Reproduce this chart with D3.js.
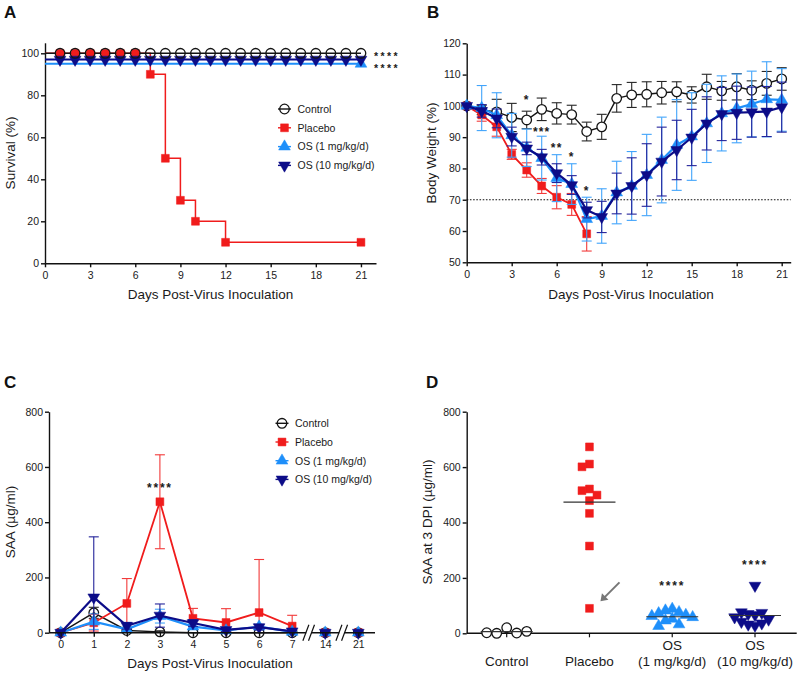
<!DOCTYPE html>
<html><head><meta charset="utf-8">
<script src="https://cdn.jsdelivr.net/npm/d3@7"></script>
<style>body{margin:0;background:#fff}svg{display:block}</style>
</head><body>
<svg id="chart" width="800" height="674"></svg>
<script>
// ---------------- DATA ----------------
// Panel A: survival (%)
const survDays      = [0,1,2,3,4,5,6,7,8,9,10,11,12,13,14,15,16,17,18,19,20,21];
const survControl   = [100,100,100,100,100,100,100,100,100,100,100,100,100,100,100,100,100,100,100,100,100,100];
const survPlacebo   = [100,100,100,100,100,100,100,90,50,30,20,20,10,10,10,10,10,10,10,10,10,10];
const survOS1       = [95,95,95,95,95,95,95,95,95,95,95,95,95,95,95,95,95,95,95,95,95,95];
const survOS10      = [97,97,97,97,97,97,97,97,97,97,97,97,97,97,97,97,97,97,97,97,97,97];
const survControlMarkDays = [1,2,3,4,5,6,7,8,9,10,11,12,13,14,15,16,17,18,19,20,21];
const survPlaceboMarkDays = [1,2,3,4,5,6,7,8,9,10,12,21];
const survOS10MarkDays    = [1,2,3,4,5,6,7,8,9,10,11,12,13,14,15,16,17,18,19,20,21];
const survOS1MarkDays     = [21];
const survTicksX = [0,3,6,9,12,15,18,21];
const survTicksY = [0,20,40,60,80,100];
const survStars = ["****","****"];
const survStarLevels = [100,94];

// Panel B: body weight (%)
const bwDays       = [0,1,2,3,4,5,6,7,8,9,10,11,12,13,14,15,16,17,18,19,20,21];
const bwControl    = [100,98.7,98.1,96.3,95.5,98.9,97.6,97.2,91.8,93.3,102.4,103.5,103.7,104.2,104.5,103.5,106.1,104.8,106.1,105,107.2,108.6];
const bwControlErr = [0,1.5,4,4.5,2.8,3.6,3.4,3,3,4,4.4,4,4,3.6,3.2,2.6,4,3,4.2,3,3.8,3.6];
const bwPlaceboDays= [0,1,2,3,4,5,6,7,8];
const bwPlacebo    = [100,97.1,93.3,84.5,79.5,74.4,70.8,68.5,59.1];
const bwPlaceboErr = [0,2,3,1.6,2.3,2.4,3.7,3.5,5.5];
const bwOS1        = [100,99.3,97,90.6,86.6,83.3,76.9,75,63.8,64.8,72.3,74.4,77.9,82.7,87.5,90.2,94.4,97.6,99.2,100.6,102.1,101.9];
const bwOS1Err     = [0,7.2,7.2,7,6,7,7.5,6.5,7,8.7,10,11,13,13.7,14.5,14,12.5,12,11,10.5,12,10];
const bwOS10       = [100,98.4,96,90.2,86.4,83.6,78.5,74.7,66.7,64.5,72,74.4,77.9,82.2,85.9,89.9,94.4,97.4,97.8,98,98.2,99.6];
const bwOS10Err    = [0,2,3,3,2,2.5,3,3,2.5,5,6.5,9,10,11,9.5,9,8.5,8.5,8.5,8,8,8];
const bwTicksX = [0,3,6,9,12,15,18,21];
const bwTicksY = [50,60,70,80,90,100,110,120];
const bwThreshold = 70;
const bwStarDays   = [4,5,6,7,8];
const bwStarLabels = ["*","***","**","*","*"];
const bwStarLevels = [102.9,92.5,87.5,84.6,73.7];

// Panel C: SAA time course (µg/ml)
const saaDays       = ["0","1","2","3","4","5","6","7","14","21"];
const saaControl    = [0,72,8,3,0,0,0,0,0,0];
const saaControlErr = [0,20,4,4,0,0,0,0,0,0];
const saaPlacebo    = [0,36,106,474,52,37,73,24,0,0];
const saaPlaceboErr = [0,30,90,170,36,50,192,39,0,0];
const saaOS1        = [0,40,12,60,22,8,22,3,0,0];
const saaOS1Err     = [0,28,8,25,10,6,8,3,0,0];
const saaOS10       = [0,128,25,62,35,10,20,5,0,0];
const saaOS10Err    = [0,219,12,42,12,6,10,4,0,0];
const saaTicksY = [0,200,400,600,800];
const saaStarDay = "3";
const saaStarLevel = 535;
const saaStarLabel = "****";

// Panel D: SAA at 3 DPI, individual animals
const dCategories = ["Control","Placebo","OS1","OS10"];
const dCatLines   = [["Control"],["Placebo"],["OS","(1 mg/kg/d)"],["OS","(10 mg/kg/d)"]];
const dControl = [20,0,1,2,7];
const dPlacebo = [673,611,601,521,515,499,479,433,315,90];
const dOS1     = [88,82,76,72,66,62,58,52,46,32,26];
const dOS10    = [28,32,36,42,50,58,66,70,74,76,172];
const dStarLabels = ["","","****","****"];
const dStarLevels = [0,0,182,258];

const legendLabels = ["Control","Placebo","OS (1 mg/kg/d)","OS (10 mg/kg/d)"];

// ---------------- STYLE ----------------
const FONT = '"Liberation Sans", Arial, Helvetica, sans-serif';
const INK = "#1a1a1a";
const ST = {
  control:{color:"#141414", fill:"none",    sym:"circle", err:"#262626", lw:1.4},
  placebo:{color:"#f01c1c", fill:"#f01c1c", sym:"square", err:"#f23a3a", lw:1.8},
  os1:    {color:"#1e8ffa", fill:"#1e8ffa", sym:"up",     err:"#41a4fb", lw:2.2},
  os10:   {color:"#0c0c88", fill:"#0c0c88", sym:"down",   err:"#23239a", lw:2.2}
};
const SERIES = ["control","placebo","os1","os10"];

const svg = d3.select("#chart");
svg.append("rect").attr("width",800).attr("height",674).attr("fill","#fff");

function txt(g,x,y,s,o={}){
  return g.append("text").attr("x",x).attr("y",y).text(s)
    .attr("font-family",FONT).attr("font-size",o.size||10.5)
    .attr("fill",o.fill||INK).attr("text-anchor",o.anchor||"start")
    .attr("font-weight",o.weight||"normal")
    .attr("letter-spacing",o.ls||0);
}
const symT = {circle:d3.symbolCircle, square:d3.symbolSquare, up:d3.symbolTriangle, down:d3.symbolTriangle};
const symS = {circle:72, square:62, up:60, down:60};
function mark(g,key,x,y,fillOverride){
  const s = ST[key];
  g.append("path").attr("d",d3.symbol().type(symT[s.sym]).size(symS[s.sym])())
    .attr("transform",`translate(${x},${y})${s.sym==="down"?" rotate(180)":""}`)
    .attr("fill",fillOverride||s.fill).attr("stroke",s.color)
    .attr("stroke-width",s.sym==="circle"?1.3:0.5);
}
function errBar(g,x,yLo,yHi,color,clipY){
  let lo = yLo, capLo = true;
  if (clipY!==undefined && yLo>clipY){ lo = clipY; capLo=false; }
  g.append("line").attr("x1",x).attr("x2",x).attr("y1",lo).attr("y2",yHi).attr("stroke",color).attr("stroke-width",1.1);
  g.append("line").attr("x1",x-5).attr("x2",x+5).attr("y1",yHi).attr("y2",yHi).attr("stroke",color).attr("stroke-width",1.1);
  if (capLo) g.append("line").attr("x1",x-5).attr("x2",x+5).attr("y1",lo).attr("y2",lo).attr("stroke",color).attr("stroke-width",1.1);
}
function styleAxis(ax,size){
  ax.selectAll("path,line").attr("stroke","#111").attr("stroke-width",1.4);
  ax.selectAll("text").attr("font-family",FONT).attr("font-size",size||10.5).attr("fill",INK);
}
function yAxis(g,scale,x,ticks){
  const ax = g.append("g").attr("transform",`translate(${x},0)`)
    .call(d3.axisLeft(scale).tickValues(ticks).tickSize(4).tickPadding(2).tickSizeOuter(0));
  styleAxis(ax);
  return ax;
}
function xAxis(g,scale,y,ticks){
  const a = d3.axisBottom(scale).tickSize(4).tickPadding(4).tickSizeOuter(0);
  if (ticks) a.tickValues(ticks);
  const ax = g.append("g").attr("transform",`translate(0,${y})`).call(a);
  styleAxis(ax);
  return ax;
}
function yTitle(g,cx,cy,s){
  g.append("text").attr("transform",`translate(${cx},${cy}) rotate(-90)`).attr("text-anchor","middle")
    .attr("font-family",FONT).attr("font-size",13.5).attr("fill",INK).text(s);
}
function legend(g,x,y0,dy){
  SERIES.forEach((k,i)=>{
    const y = y0+i*dy;
    g.append("line").attr("x1",x-6.5).attr("x2",x+6.5).attr("y1",y).attr("y2",y).attr("stroke",ST[k].color).attr("stroke-width",1.4);
    mark(g,k,x,y);
    txt(g,x+13,y+3.8,legendLabels[i],{size:10.5});
  });
}

// ---------------- PANEL A ----------------
{
  const g = svg.append("g");
  const x = d3.scaleLinear([0,22],[45,376]);
  const y = d3.scaleLinear([0,105],[263.3,42.8]);
  yAxis(g,y,45,survTicksY);
  xAxis(g,x,263.3,survTicksX);
  const line = d3.line().x((d,i)=>x(survDays[i])).y(d=>y(d));
  const step = d3.line().x((d,i)=>x(survDays[i])).y(d=>y(d)).curve(d3.curveStepAfter);
  g.append("path").attr("d",line(survOS1)).attr("fill","none").attr("stroke",ST.os1.color).attr("stroke-width",2);
  g.append("path").attr("d",line(survOS10)).attr("fill","none").attr("stroke",ST.os10.color).attr("stroke-width",2);
  g.append("path").attr("d",step(survPlacebo)).attr("fill","none").attr("stroke",ST.placebo.color).attr("stroke-width",1.5);
  g.append("path").attr("d",line(survControl)).attr("fill","none").attr("stroke",ST.control.color).attr("stroke-width",1.6);
  survPlaceboMarkDays.forEach(d=>mark(g,"placebo",x(d),y(survPlacebo[survDays.indexOf(d)])));
  survOS1MarkDays.forEach(d=>mark(g,"os1",x(d),y(survOS1[survDays.indexOf(d)])));
  survOS10MarkDays.forEach(d=>mark(g,"os10",x(d),y(survOS10[survDays.indexOf(d)])));
  survControlMarkDays.forEach(d=>mark(g,"control",x(d),y(survControl[survDays.indexOf(d)])));
  survStars.forEach((s,i)=>txt(g,374,y(survStarLevels[i])+6.2,s,{size:10.5,ls:2.4,weight:"bold"}));
  legend(g,284.5,109,18.8);
  txt(g,210.5,299,"Days Post-Virus Inoculation",{size:13.5,anchor:"middle"});
  yTitle(g,15,153,"Survival (%)");
  txt(g,4,18.3,"A",{size:17,weight:"bold",fill:"#111"});
}

// ---------------- PANEL B ----------------
{
  const g = svg.append("g");
  const x = d3.scaleLinear([0,21.6],[466.7,790.7]);
  const y = d3.scaleLinear([50,120],[262.3,43.3]);
  yAxis(g,y,466.7,bwTicksY);
  xAxis(g,x,262.3,bwTicksX);
  g.append("line").attr("x1",466.7).attr("x2",790.7).attr("y1",y(bwThreshold)).attr("y2",y(bwThreshold))
    .attr("stroke","#111").attr("stroke-width",1.2).attr("stroke-dasharray","1.6,1.6");
  function series(key,days,vals,errs,fill){
    const s = ST[key];
    days.forEach((d,i)=>{ if(errs[i]>0) errBar(g,x(d),y(vals[i]-errs[i]),y(vals[i]+errs[i]),s.err); });
    g.append("path").attr("d",d3.line().x((v,i)=>x(days[i])).y(v=>y(v))(vals))
      .attr("fill","none").attr("stroke",s.color).attr("stroke-width",s.lw);
    days.forEach((d,i)=>mark(g,key,x(d),y(vals[i]),fill));
  }
  series("control",bwDays,bwControl,bwControlErr,"#fff");
  series("placebo",bwPlaceboDays,bwPlacebo,bwPlaceboErr);
  series("os1",bwDays,bwOS1,bwOS1Err);
  series("os10",bwDays,bwOS10,bwOS10Err);
  bwStarDays.forEach((d,i)=>txt(g,x(d),y(bwStarLevels[i])+6.9,bwStarLabels[i],{size:12,anchor:"middle",ls:1.2,weight:"bold"}));
  txt(g,631,299,"Days Post-Virus Inoculation",{size:13.5,anchor:"middle"});
  yTitle(g,436,153,"Body Weight (%)");
  txt(g,427,18.3,"B",{size:17,weight:"bold",fill:"#111"});
}

// ---------------- PANEL C ----------------
{
  const g = svg.append("g");
  const x = d3.scalePoint(saaDays,[60.7,358.3]);
  const y = d3.scaleLinear([0,800],[632.7,411.7]);
  const y0 = y(0);
  function series(key,vals,errs){
    const s = ST[key];
    saaDays.forEach((d,i)=>{ if(errs[i]>0) errBar(g,x(d),y(vals[i]-errs[i]),y(vals[i]+errs[i]),s.err,y0); });
    g.append("path").attr("d",d3.line().x((v,i)=>x(saaDays[i])).y(v=>y(v))(vals.slice(0,8)))
      .attr("fill","none").attr("stroke",s.color).attr("stroke-width",s.lw);
    saaDays.forEach((d,i)=>mark(g,key,x(d),y(vals[i])));
  }
  series("control",saaControl,saaControlErr);
  series("placebo",saaPlacebo,saaPlaceboErr);
  series("os1",saaOS1,saaOS1Err);
  series("os10",saaOS10,saaOS10Err);
  yAxis(g,y,49,saaTicksY);
  const ax = xAxis(g,x,y0);
  ax.select(".domain").remove();
  g.append("line").attr("x1",49).attr("x2",375).attr("y1",y0).attr("y2",y0).attr("stroke","#111").attr("stroke-width",1.4);
  // axis breaks
  [[saaDays[7],saaDays[8]],[saaDays[8],saaDays[9]]].forEach(([a,b])=>{
    const cx = (x(a)+x(b))/2;
    g.append("rect").attr("x",cx-2.5).attr("y",y0-3).attr("width",5).attr("height",6).attr("fill","#fff");
    [-2.8,2.8].forEach(o=>g.append("line").attr("x1",cx+o-3).attr("x2",cx+o+3).attr("y1",y0+8).attr("y2",y0-8)
      .attr("stroke","#111").attr("stroke-width",1.2));
  });
  txt(g,x(saaStarDay),y(saaStarLevel)+6.9,saaStarLabel,{size:12,anchor:"middle",ls:1.8,weight:"bold"});
  legend(g,282,423.3,18.7);
  txt(g,210,668,"Days Post-Virus Inoculation",{size:13.5,anchor:"middle"});
  yTitle(g,15,522,"SAA (µg/ml)");
  txt(g,4,388,"C",{size:17,weight:"bold",fill:"#111"});
}

// ---------------- PANEL D ----------------
{
  const g = svg.append("g");
  const x = d3.scalePoint(dCategories,[506.7,755]);
  const y = d3.scaleLinear([0,800],[633.3,411.7]);
  const y0 = y(0);
  yAxis(g,y,466.7,saaTicksY);
  g.append("line").attr("x1",466.7).attr("x2",796.7).attr("y1",y0).attr("y2",y0).attr("stroke","#111").attr("stroke-width",1.4);
  dCategories.forEach(c=>g.append("line").attr("x1",x(c)).attr("x2",x(c)).attr("y1",y0).attr("y2",y0+4).attr("stroke","#111").attr("stroke-width",1.2));
  function swarm(vals,step,coll){
    const placed=[];
    return vals.map(v=>{
      const py=y(v);
      for(let k=0;k<40;k++){
        const off = k===0?0:(k%2? -Math.ceil(k/2):Math.ceil(k/2))*step;
        if(!placed.some(p=>Math.abs(p.dx-off)<0.5 && Math.abs(p.y-py)<coll)){ placed.push({dx:off,y:py}); return {v,dx:off}; }
      }
      return {v,dx:0};
    });
  }
  const groups = [[dControl,"control",10,9.5],[dPlacebo,"placebo",7.5,9.5],[dOS1,"os1",6.8,8.5],[dOS10,"os10",6.8,8.5]];
  groups.forEach(([vals,key,step,coll],ci)=>{
    const cx = x(dCategories[ci]);
    const m = d3.mean(vals);
    swarm(vals,step,coll).forEach(p=>mark(g,key,cx+p.dx,y(p.v),key==="control"?"#fff":undefined));
    g.append("line").attr("x1",cx-26).attr("x2",cx+26).attr("y1",y(m)).attr("y2",y(m)).attr("stroke","#333").attr("stroke-width",1.1);
    if(dStarLabels[ci]) txt(g,cx,y(dStarLevels[ci])+6.9,dStarLabels[ci],{size:12,anchor:"middle",ls:1.8,weight:"bold"});
    const lines = dCatLines[ci];
    lines.forEach((s,j)=>txt(g,cx,666-(lines.length-1-j)*16.5,s,{size:13.5,anchor:"middle"}));
  });
  // arrow pointing to the low placebo animal
  const lowV = d3.min(dPlacebo);
  const px = x("Placebo"), py = y(lowV);
  const tip = [px+11,py-7], tail=[px+30,py-26];
  g.append("line").attr("x1",tail[0]).attr("y1",tail[1]).attr("x2",tip[0]+3).attr("y2",tip[1]-3).attr("stroke","#777").attr("stroke-width",2);
  g.append("path").attr("d",`M${tip[0]},${tip[1]} L${tip[0]+1.5},${tip[1]-8} L${tip[0]+8},${tip[1]-1.5} Z`).attr("fill","#777");
  yTitle(g,431.5,522,"SAA at 3 DPI (µg/ml)");
  txt(g,426,388,"D",{size:17,weight:"bold",fill:"#111"});
}
</script>
</body></html>
